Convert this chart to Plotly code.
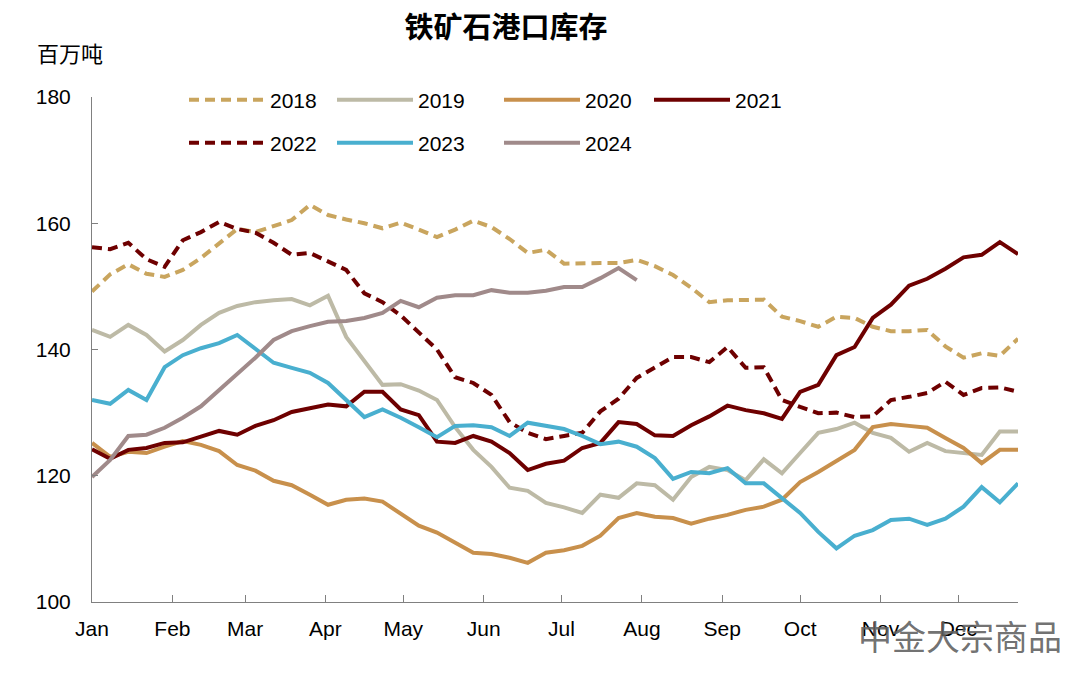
import pandas as pd
import plotly.graph_objects as go

title_text = "铁矿石港口库存"
unit_text = "百万吨"
watermark = "中金大宗商品"

months = ["Jan", "Feb", "Mar", "Apr", "May", "Jun", "Jul", "Aug", "Sep", "Oct", "Nov", "Dec"]
month_starts = pd.date_range("2021-01-01", periods=12, freq="MS")
weeks = pd.date_range("2021-01-01", periods=52, freq="7D")

y2018 = [149.2, 151.9, 153.5, 152.0, 151.5, 152.6, 154.5, 156.9, 159.1, 158.6, 159.5, 160.5, 162.9,
         161.3, 160.6, 160.0, 159.2, 160.1, 159.0, 157.8, 159.0, 160.4, 159.4, 157.5, 155.3, 155.8,
         153.6, 153.7, 153.7, 153.7, 154.2, 153.2, 151.8, 149.8, 147.5, 147.8, 147.8, 147.9, 145.2,
         144.5, 143.6, 145.2, 145.0, 143.6, 142.9, 142.9, 143.1, 140.5, 138.7, 139.4, 139.0, 141.7]
y2019 = [143.1, 142.0, 143.9, 142.3, 139.7, 141.5, 143.9, 145.8, 146.9, 147.5, 147.8, 148.0, 147.0,
         148.5, 142.0, 138.3, 134.4, 134.5, 133.5, 132.0, 127.7, 124.1, 121.4, 118.1, 117.6, 115.7,
         115.0, 114.1, 117.0, 116.5, 118.8, 118.5, 116.2, 119.8, 121.4, 120.9, 119.3, 122.6, 120.4,
         123.6, 126.8, 127.4, 128.4, 126.8, 126.0, 123.8, 125.2, 123.9, 123.6, 123.3, 127.0, 127.0]
y2020 = [125.2, 123.0, 123.8, 123.6, 124.6, 125.5, 124.9, 123.9, 121.7, 120.8, 119.2, 118.5, 117.0,
         115.4, 116.2, 116.4, 115.9, 114.0, 112.1, 111.0, 109.4, 107.8, 107.6, 107.0, 106.2, 107.8,
         108.2, 108.9, 110.5, 113.3, 114.1, 113.5, 113.3, 112.4, 113.2, 113.8, 114.6, 115.1, 116.2,
         119.0, 120.6, 122.3, 124.1, 127.7, 128.2, 127.9, 127.6, 126.0, 124.4, 122.0, 124.1, 124.1]
y2021 = [124.2, 122.7, 124.1, 124.4, 125.2, 125.3, 126.2, 127.1, 126.5, 127.9, 128.8, 130.1, 130.7,
         131.3, 131.0, 133.3, 133.3, 130.5, 129.6, 125.4, 125.2, 126.3, 125.4, 123.6, 120.9, 121.9,
         122.4, 124.4, 125.2, 128.5, 128.2, 126.4, 126.3, 128.0, 129.4, 131.1, 130.4, 129.9, 129.0,
         133.3, 134.4, 139.1, 140.4, 145.0, 147.1, 150.1, 151.2, 152.8, 154.6, 155.0, 157.0, 155.1]
y2022 = [156.2, 155.9, 156.9, 154.3, 153.1, 157.3, 158.6, 160.2, 159.1, 158.5, 156.9, 155.0, 155.3,
         154.0, 152.6, 148.9, 147.5, 145.4, 142.8, 140.0, 135.6, 134.7, 132.8, 128.5, 126.8, 125.8,
         126.3, 126.8, 130.2, 132.2, 135.5, 137.1, 138.8, 138.8, 138.0, 140.4, 137.1, 137.2, 132.0,
         130.9, 129.9, 130.0, 129.3, 129.4, 132.0, 132.5, 133.1, 134.9, 132.8, 133.9, 134.0, 133.3]
y2023 = [132.0, 131.4, 133.6, 132.0, 137.2, 139.1, 140.2, 141.0, 142.3, 140.1, 137.9, 137.1, 136.3,
         134.7, 132.0, 129.3, 130.5, 129.2, 127.7, 126.1, 127.9, 128.0, 127.7, 126.3, 128.4, 127.9,
         127.4, 126.3, 125.0, 125.4, 124.6, 122.8, 119.5, 120.6, 120.4, 121.2, 118.8, 118.8, 116.5,
         114.1, 111.1, 108.5, 110.5, 111.4, 113.0, 113.2, 112.2, 113.2, 115.1, 118.2, 115.8, 118.8]
y2024 = [119.8, 122.5, 126.3, 126.5, 127.6, 129.2, 131.0, 133.6, 136.0, 138.7, 141.5, 142.9, 143.7,
         144.4, 144.5, 145.0, 145.8, 147.7, 146.7, 148.2, 148.6, 148.6, 149.4, 149.0, 149.0, 149.3,
         149.9, 149.9, 151.3, 152.9, 151.0]

# name, values, colour, dash, legend text x (px in page), legend row y (px)
series = [
    ("2018", y2018, "#C9A55E", "10px,6px", 270, 92),
    ("2019", y2019, "#BDBAA6", "solid", 418, 92),
    ("2020", y2020, "#C8904C", "solid", 585, 92),
    ("2021", y2021, "#6E0000", "solid", 735, 92),
    ("2022", y2022, "#6E0000", "10px,6px", 270, 135),
    ("2023", y2023, "#49AFCF", "solid", 418, 135),
    ("2024", y2024, "#A08A8A", "solid", 585, 135),
]

txt = "Liberation Sans, Arial, sans-serif"
cjk = "Noto Sans CJK SC, sans-serif"

OFF = 8  # page body margin offset
ITEMW = 76
fig = go.Figure()
legends = {}
for k, (name, vals, color, dash, tx, ty) in enumerate(series):
    lname = "legend" if k == 0 else "legend%d" % (k + 1)
    fig.add_trace(go.Scatter(
        x=weeks[:len(vals)], y=vals, name=name, mode="lines",
        line=dict(color=color, width=4, dash=dash),
        legend=lname,
    ))
    legends[lname] = dict(
        orientation="h", xref="container", yref="container",
        x=(tx - OFF - ITEMW - 10) / 1080, xanchor="left",
        y=1 - ty / 678, yanchor="middle",
        itemwidth=ITEMW, font=dict(family=txt, size=21, color="black"),
        bgcolor="rgba(0,0,0,0)",
    )

fig.update_layout(
    width=1080, height=678,
    margin=dict(l=92 - OFF, r=62 + OFF, t=97 - OFF, b=76 + OFF, autoexpand=False),
    paper_bgcolor="white", plot_bgcolor="white",
    font=dict(family=txt, size=21, color="black"),
    title=dict(text="<b>" + title_text + "</b>", x=(506 - OFF) / 1080, xanchor="center",
               y=1 - 20 / 678, yanchor="middle",
               xref="container", yref="container",
               font=dict(family=cjk, size=29, color="black")),
    showlegend=True,
    **legends,
)

fig.update_xaxes(
    type="date", range=[weeks[0], weeks[-1]],
    tickvals=month_starts, ticktext=months,
    ticks="inside", ticklen=7, tickcolor="#808080", tickwidth=1,
    showline=True, linecolor="#808080", linewidth=1,
    showgrid=False, zeroline=False, ticklabelstandoff=8,
    tickfont=dict(family=txt, size=21, color="black"),
)
fig.update_yaxes(
    range=[100, 180], dtick=20, tick0=100,
    ticks="inside", ticklen=6, tickcolor="#808080", tickwidth=1,
    showline=True, linecolor="#808080", linewidth=1,
    showgrid=False, zeroline=False, ticklabelstandoff=16,
    tickfont=dict(family=txt, size=21, color="black"),
)

fig.add_annotation(text=unit_text, xref="paper", yref="paper",
                   x=(35 - 92) / 926, y=(602 - 52) / 505, xanchor="left", yanchor="middle",
                   showarrow=False, font=dict(family=cjk, size=22, color="black"))
fig.add_annotation(text=watermark, xref="paper", yref="paper",
                   x=(1064 - 92) / 926, y=(602 - 635) / 505, xanchor="right", yanchor="middle",
                   showarrow=False, font=dict(family=cjk, size=34, color="rgba(95,95,95,0.9)"))

fig.write_html("out.html")
